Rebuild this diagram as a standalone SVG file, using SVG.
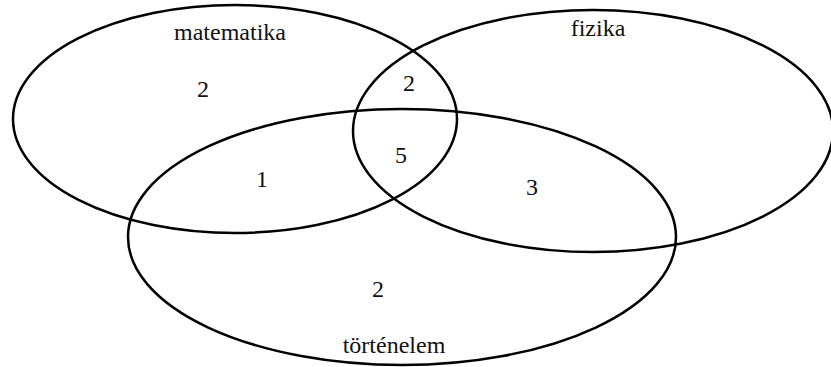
<svg xmlns="http://www.w3.org/2000/svg" width="831" height="367" viewBox="0 0 831 367">
<style>
.set{fill:none;stroke:#000;stroke-width:2.5}
.t{font-family:"Liberation Serif","Times New Roman",serif;font-size:24px;fill:#111;text-anchor:middle}
</style>
<rect width="831" height="367" fill="#fff"/>
<g id="matematika">
<ellipse class="set" cx="235" cy="119" rx="222" ry="114"/>
<text class="t" x="230" y="40">matematika</text>
</g>
<g id="fizika">
<ellipse class="set" cx="593" cy="131" rx="240" ry="121"/>
<text class="t" x="598" y="36">fizika</text>
</g>
<g id="tortenelem">
<ellipse class="set" cx="402" cy="237" rx="274" ry="128"/>
<text class="t" x="394" y="353">történelem</text>
</g>
<g id="counts">
<text class="t" x="203" y="97">2</text>
<text class="t" x="409" y="91">2</text>
<text class="t" x="401" y="163">5</text>
<text class="t" x="262" y="187">1</text>
<text class="t" x="532" y="195">3</text>
<text class="t" x="378" y="297">2</text>
</g>
<g id="connectors"/>
</svg>
